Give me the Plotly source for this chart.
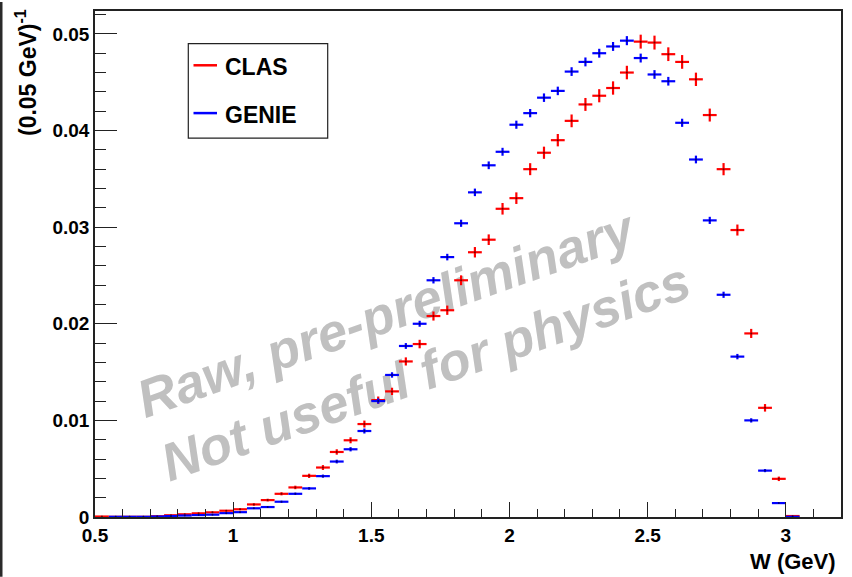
import plotly.graph_objects as go

# ---------------- data ----------------
W_CENTERS = [0.525, 0.575, 0.625, 0.675, 0.725, 0.775, 0.825, 0.875, 0.925, 0.975,
             1.025, 1.075, 1.125, 1.175, 1.225, 1.275, 1.325, 1.375, 1.425, 1.475,
             1.525, 1.575, 1.625, 1.675, 1.725, 1.775, 1.825, 1.875, 1.925, 1.975,
             2.025, 2.075, 2.125, 2.175, 2.225, 2.275, 2.325, 2.375, 2.425, 2.475,
             2.525, 2.575, 2.625, 2.675, 2.725, 2.775, 2.825, 2.875, 2.925, 2.975,
             3.025]
BIN_HALF_WIDTH = 0.025

CLAS = [0.00005, 0.00002, 0.00002, 0.00002, 0.00008, 0.00018, 0.00028, 0.00038, 0.00048, 0.00065,
        0.0008, 0.0013, 0.00175, 0.0024, 0.00306, 0.00426, 0.00512, 0.00673, 0.00794, 0.00962,
        0.0121, 0.0130, 0.0161, 0.0179, 0.0208, 0.0214, 0.0245, 0.0274, 0.0287, 0.0319,
        0.0330, 0.0360, 0.0377, 0.0390, 0.0410, 0.0427, 0.0436, 0.0444, 0.0460, 0.0492,
        0.0491, 0.0479, 0.0471, 0.0453, 0.0416, 0.0360, 0.0297, 0.0190, 0.0113, 0.00395,
        0.0001]
CLAS_ERR = [0.00002, 0.00002, 0.00002, 0.00002, 0.00003, 0.00004, 0.00005, 0.00006, 0.00007, 0.00008,
            0.00009, 0.00012, 0.00014, 0.00016, 0.00018, 0.00022, 0.00025, 0.00028, 0.00031, 0.00036,
            0.00037, 0.00038, 0.00042, 0.00044, 0.00047, 0.00048, 0.00051, 0.00054, 0.00055, 0.00060,
            0.00060, 0.00062, 0.00063, 0.00064, 0.00066, 0.00067, 0.00068, 0.00069, 0.00070, 0.00072,
            0.00072, 0.00071, 0.00071, 0.00069, 0.00067, 0.00063, 0.00057, 0.00047, 0.00039, 0.00023,
            0.00004]

GENIE = [None, 0.00002, 0.00002, 0.00002, 0.00005, 0.0001, 0.00015, 0.0002, 0.00024, 0.0004,
         0.0005, 0.0009, 0.00103, 0.00158, 0.0024, 0.00296, 0.00423, 0.00574, 0.00701, 0.0089,
         0.0120, 0.0147, 0.0177, 0.0200, 0.0245, 0.0269, 0.0304, 0.0336, 0.0364, 0.0378,
         0.0406, 0.0418, 0.0434, 0.0441, 0.0461, 0.0471, 0.0480, 0.0487, 0.0493, 0.0475,
         0.0458, 0.0451, 0.0408, 0.0370, 0.0307, 0.0230, 0.0166, 0.0100, 0.0048, 0.00144,
         0.00002]
GENIE_ERR = [0, 0.00001, 0.00001, 0.00001, 0.00002, 0.00002, 0.00003, 0.00003, 0.00003, 0.00004,
             0.00005, 0.00007, 0.00008, 0.00010, 0.00012, 0.00013, 0.00016, 0.00019, 0.00022, 0.00026,
             0.00027, 0.00028, 0.00030, 0.00031, 0.00033, 0.00034, 0.00037, 0.00039, 0.00040, 0.00041,
             0.00042, 0.00043, 0.00044, 0.00044, 0.00045, 0.00046, 0.00046, 0.00046, 0.00047, 0.00046,
             0.00045, 0.00045, 0.00042, 0.00040, 0.00037, 0.00032, 0.00028, 0.00022, 0.00016, 0.00009,
             0.00001]

SERIES_NAMES = ["CLAS", "GENIE"]
SERIES_COLORS = ["#ff0000", "#0000ff"]

X_TICKS = [0.5, 1, 1.5, 2, 2.5, 3]
X_TICK_TEXT = ["0.5", "1", "1.5", "2", "2.5", "3"]
Y_TICKS = [0, 0.01, 0.02, 0.03, 0.04, 0.05]
Y_TICK_TEXT = ["0", "0.01", "0.02", "0.03", "0.04", "0.05"]

X_TITLE = "W (GeV)"
Y_TITLE = "(0.05 GeV)<sup>-1</sup>"
WATERMARK = ["Raw, pre-preliminary", "Not useful for physics"]

# ---------------- figure ----------------
W, H = 852, 577
ML, MR, MT, MB = 95, 11, 9, 60
PW, PH = W - ML - MR, H - MT - MB


def px(xp):
    return (xp - ML) / PW


def py(yp):
    return (H - MB - yp) / PH


FONT = "Liberation Sans, Arial, Helvetica, sans-serif"
AXC = "#222222"

fig = go.Figure()
for name, vals, errs, col in [(SERIES_NAMES[0], CLAS, CLAS_ERR, SERIES_COLORS[0]),
                              (SERIES_NAMES[1], GENIE, GENIE_ERR, SERIES_COLORS[1])]:
    fig.add_trace(go.Scatter(
        x=W_CENTERS, y=vals, mode="markers", name=name, showlegend=False,
        marker=dict(size=2, color="rgba(0,0,0,0.55)"),
        error_x=dict(type="constant", value=BIN_HALF_WIDTH, width=0, thickness=2.2, color=col),
        error_y=dict(type="data", array=errs, width=0, thickness=2.2, color=col),
    ))

fig.update_layout(
    width=W, height=H,
    margin=dict(l=ML, r=MR, t=MT, b=MB),
    paper_bgcolor="white", plot_bgcolor="white",
    font=dict(family=FONT, color="black"),
    xaxis=dict(range=[0.5, 3.2], showgrid=False, zeroline=False,
               showline=True, mirror=True, linecolor=AXC, linewidth=1.5,
               ticks="inside", ticklen=15, tickwidth=1.2, tickcolor=AXC,
               tickvals=X_TICKS, ticktext=X_TICK_TEXT,
               tickfont=dict(size=19, family=FONT, weight="bold"),
               minor=dict(ticks="inside", ticklen=8, dtick=0.1, tickwidth=1.2, tickcolor=AXC)),
    yaxis=dict(range=[0, 0.05237], showgrid=False, zeroline=False,
               showline=True, mirror=True, linecolor=AXC, linewidth=1.5,
               ticks="inside", ticklen=22, tickwidth=1.2, tickcolor=AXC,
               tickvals=Y_TICKS, ticktext=Y_TICK_TEXT,
               tickfont=dict(size=19, family=FONT, weight="bold"),
               minor=dict(ticks="inside", ticklen=11, dtick=0.002, tickwidth=1.2, tickcolor=AXC)),
)

shapes = []
# watermark (below data)
wm_centers = [(383.5, 308), (424, 366)]
for txt, (cx, cy) in zip(WATERMARK, wm_centers):
    shapes.append(dict(type="rect", xref="paper", yref="paper",
                       x0=px(cx - 1), x1=px(cx + 1), y0=py(cy + 1), y1=py(cy - 1),
                       line=dict(width=0), fillcolor="rgba(0,0,0,0)", layer="below",
                       label=dict(text=txt, textangle=-19.5, textposition="middle center",
                                  font=dict(family=FONT, size=53, color="#c0c0c0",
                                            weight="bold", style="italic"))))
# legend box
shapes.append(dict(type="rect", xref="paper", yref="paper",
                   x0=px(188.3), x1=px(327.7), y0=py(136.7), y1=py(41.7),
                   line=dict(color=AXC, width=1.2), fillcolor="white", layer="above"))
for i, (name, col) in enumerate(zip(SERIES_NAMES, SERIES_COLORS)):
    ly = [63.5, 111.5][i]
    shapes.append(dict(type="line", xref="paper", yref="paper",
                       x0=px(193.5), x1=px(217), y0=py(ly), y1=py(ly),
                       line=dict(color=col, width=2.5), layer="above"))
    fig.add_annotation(xref="paper", yref="paper", x=px(223), y=py(ly + 1.5),
                       xanchor="left", yanchor="middle", showarrow=False,
                       text="<b>%s</b>" % name, font=dict(size=23, family=FONT, color="black"))
# left window border
shapes.append(dict(type="rect", xref="paper", yref="paper",
                   x0=px(0), x1=px(2.5), y0=py(H), y1=py(0),
                   line=dict(width=0), fillcolor="#2a2a2a", layer="above"))
fig.update_layout(shapes=shapes)

# axis titles
fig.add_annotation(xref="paper", yref="paper", x=px(838), y=py(562),
                   xanchor="right", yanchor="middle", showarrow=False,
                   text="<b>%s</b>" % X_TITLE, font=dict(size=22, family=FONT, color="black"))
fig.add_annotation(xref="paper", yref="paper", x=px(25.5), y=py(5),
                   xanchor="center", yanchor="top", showarrow=False, textangle=-90,
                   text="<b>%s</b>" % Y_TITLE, font=dict(size=23, family=FONT, color="black"))

fig.write_html("out.html")
